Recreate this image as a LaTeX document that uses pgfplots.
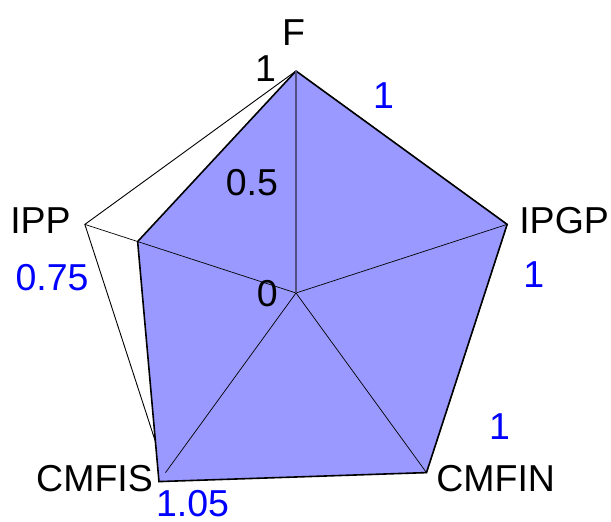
\documentclass[border=0pt]{standalone}
\usepackage{pgfplots}
\pgfplotsset{compat=1.18}
\usepackage{fontspec}
\setmainfont{Liberation Sans}
\definecolor{radarfill}{RGB}{153,153,255}
\definecolor{valblue}{RGB}{0,0,255}
\definecolor{fspoke}{RGB}{80,80,130}
\newcommand{\lbl}{\fontsize{37.5pt}{42pt}\selectfont}
\begin{document}
\begin{tikzpicture}[lb/.style={inner sep=0pt, anchor=base west, font=\lbl}]
\begin{axis}[
  x=222pt, y=222pt,
  xmin=-1.3333, xmax=1.4189, ymin=-1.0315, ymax=1.3198,
  hide axis, clip=false,
]
\path (rel axis cs:0,0) rectangle (rel axis cs:1,1);
% outer pentagon (value 1)
\addplot[black, line width=0.9pt, data cs=polar] coordinates {(90,1) (18,1) (-54,1) (-126,1) (162,1) (90,1)};
% data polygon
\addplot[black, line width=1.6pt, fill=radarfill, data cs=polar] coordinates {(90,1) (18,1) (-54,1) (-126,1.05) (162,0.75) (90,1)};
% spokes
\addplot[black, line width=0.7pt, data cs=polar] coordinates {(18,0) (18,1)};
\addplot[black, line width=0.7pt, data cs=polar] coordinates {(-54,0) (-54,1)};
\addplot[black, line width=0.7pt, data cs=polar] coordinates {(-126,0) (-126,1)};
\addplot[black, line width=0.7pt, data cs=polar] coordinates {(162,0) (162,1)};
\addplot[fspoke, line width=1.4pt, data cs=polar] coordinates {(90,0) (90,1)};
% category labels
\node[lb] at (axis cs:-0.063,1.117) {F};
\node[lb] at (axis cs:1.005,0.266) {IPGP};
\node[lb] at (axis cs:0.631,-0.892) {CMFIN};
\node[lb] at (axis cs:-1.171,-0.892) {CMFIS};
\node[lb] at (axis cs:-1.288,0.266) {IPP};
% radial tick labels
\node[lb] at (axis cs:-0.185,0.951) {1};
\node[lb] at (axis cs:-0.317,0.441) {0.5};
\node[lb] at (axis cs:-0.177,-0.063) {0};
% value labels
\node[lb, text=valblue] at (axis cs:0.347,0.833) {1};
\node[lb, text=valblue] at (axis cs:1.023,0.023) {1};
\node[lb, text=valblue] at (axis cs:0.869,-0.658) {1};
\node[lb, text=valblue] at (axis cs:-0.631,-1.005) {1.05};
\node[lb, text=valblue] at (axis cs:-1.264,0.009) {0.75};
\end{axis}
\end{tikzpicture}
\end{document}
